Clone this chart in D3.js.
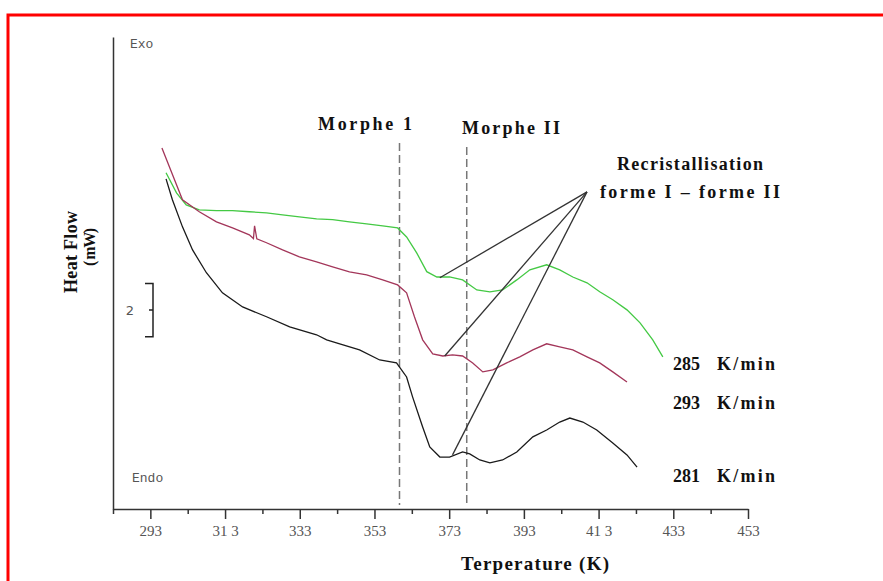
<!DOCTYPE html>
<html>
<head>
<meta charset="utf-8">
<script src="https://cdn.jsdelivr.net/npm/d3@7/dist/d3.min.js"></script>
<style>
  body { margin: 0; background: #fff; }
  svg { display: block; }
  .bold { font-family: 'Liberation Serif', serif; font-weight: bold; fill: #111; }
</style>
</head>
<body>
<svg id="chart" width="883" height="581"></svg>
<script>
// temperature (K), heat flow (mW, arbitrary offset)
const temp285 = [297.2, 300.0, 302.6, 306.1, 310.7, 315.0, 319.5, 324.1, 328.4, 332.9, 337.5, 341.8, 346.3, 350.9, 355.2, 359.2, 361.6, 364.3, 367.0, 369.7, 373.1, 376.6, 380.4, 383.9, 387.3, 391.1, 394.6, 399.1, 402.6, 406.1, 409.9, 413.3, 416.8, 420.6, 424.1, 427.5, 430.2]
const flow285 = [12.68, 11.92, 11.47, 11.28, 11.25, 11.25, 11.21, 11.17, 11.09, 11.02, 10.94, 10.91, 10.83, 10.75, 10.68, 10.6, 10.26, 9.66, 8.95, 8.75, 8.75, 8.64, 8.26, 8.19, 8.26, 8.64, 9.02, 9.21, 9.02, 8.75, 8.53, 8.19, 7.89, 7.51, 7.02, 6.38, 5.74]

const temp293 = [296.1, 301.6, 306.1, 310.7, 315.0, 319.5, 320.6, 320.9, 321.5, 324.1, 328.4, 332.9, 337.5, 341.8, 346.3, 350.9, 355.2, 359.2, 361.6, 363.7, 365.9, 368.6, 371.3, 373.9, 376.6, 379.3, 382.0, 384.7, 388.4, 391.9, 395.4, 399.1, 402.6, 406.1, 409.9, 413.3, 416.8, 420.6]
const flow293 = [13.61, 11.66, 11.21, 10.83, 10.6, 10.34, 10.2, 10.68, 10.19, 10.04, 9.77, 9.51, 9.32, 9.13, 8.94, 8.83, 8.64, 8.45, 8.15, 7.25, 6.38, 5.85, 5.77, 5.81, 5.77, 5.51, 5.17, 5.25, 5.51, 5.74, 6.0, 6.23, 6.11, 6.0, 5.74, 5.51, 5.17, 4.79]

const temp281 = [297.2, 298.9, 301.6, 304.3, 308.0, 312.3, 317.7, 324.1, 330.3, 337.5, 340.2, 343.7, 349.0, 354.4, 358.9, 361.6, 363.2, 365.9, 367.8, 370.5, 373.1, 376.6, 378.5, 381.2, 383.9, 387.3, 391.1, 395.4, 399.1, 402.6, 405.3, 408.8, 412.5, 416.8, 420.6, 423.3]
const flow281 = [12.45, 11.66, 10.64, 9.77, 8.91, 8.15, 7.62, 7.25, 6.87, 6.57, 6.38, 6.23, 6.0, 5.62, 5.51, 4.98, 4.23, 3.09, 2.34, 1.96, 1.96, 2.15, 2.08, 1.85, 1.74, 1.85, 2.15, 2.72, 2.98, 3.28, 3.43, 3.28, 2.98, 2.49, 2.04, 1.58]

const majorTicks = [293, 313, 333, 353, 373, 393, 413, 433, 453]
const tickLabels = ['293', '31 3', '333', '353', '373', '393', '41 3', '433', '453']
const minorTicks = [283, 303, 323, 343, 363, 383, 403, 423, 443]

const morpheTemps = [359.7, 377.7]
const morpheNames = ['Morphe  1', 'Morphe II']

// recristallisation pointer: apex then one end per curve
const pointerApex = [409.9, 11.96]
const pointerEnds = [[370.5, 8.72], [371.8, 5.77], [373.9, 2.04]]

const svg = d3.select('#chart')

const x = d3.scaleLinear().domain([283, 453]).range([113, 748])
const y = d3.scaleLinear().domain([0, 17.8]).range([509, 37])

// red frame
svg.append('rect')
  .attr('x', 8).attr('y', 15)
  .attr('width', 1000).attr('height', 1000)
  .attr('fill', 'none').attr('stroke', '#ff0000').attr('stroke-width', 3)

// x axis, labelled ticks
const xAxis = svg.append('g')
  .attr('transform', 'translate(0,' + y(0) + ')')
  .call(d3.axisBottom(x).tickValues(majorTicks).tickSize(10).tickSizeOuter(0)
    .tickFormat((d, i) => tickLabels[i]))
xAxis.select('.domain').attr('stroke', '#333').attr('stroke-width', 1.5)
xAxis.selectAll('.tick line').attr('stroke', '#333').attr('stroke-width', 1.5)
xAxis.selectAll('.tick text')
  .attr('y', 16)
  .attr('font-family', 'Liberation Serif, serif')
  .attr('font-size', 15)
  .attr('fill', '#555')

const xMinor = svg.append('g')
  .attr('transform', 'translate(0,' + y(0) + ')')
  .call(d3.axisBottom(x).tickValues(minorTicks).tickSize(5).tickSizeOuter(0).tickFormat(''))
xMinor.select('.domain').remove()
xMinor.selectAll('.tick line').attr('stroke', '#333').attr('stroke-width', 1.5)

// y axis, a bare line
const yAxis = svg.append('g')
  .attr('transform', 'translate(' + x(283) + ',0)')
  .call(d3.axisLeft(y).tickValues([]).tickSizeOuter(0))
yAxis.select('.domain').attr('stroke', '#333').attr('stroke-width', 1.5)

svg.append('text')
  .attr('class', 'bold')
  .attr('x', 535).attr('y', 570)
  .attr('text-anchor', 'middle')
  .attr('font-size', 19)
  .attr('textLength', 148)
  .text('Terperature  (K)')

svg.append('text')
  .attr('class', 'bold')
  .attr('transform', 'translate(77,252) rotate(-90)')
  .attr('text-anchor', 'middle')
  .attr('font-size', 18)
  .attr('textLength', 82)
  .text('Heat  Flow')

svg.append('text')
  .attr('class', 'bold')
  .attr('transform', 'translate(95,247) rotate(-90)')
  .attr('text-anchor', 'middle')
  .attr('font-size', 16)
  .attr('textLength', 38)
  .text('( mW)')

svg.append('text')
  .attr('x', 130).attr('y', 48)
  .attr('font-family', 'Liberation Mono, monospace')
  .attr('font-size', 13).attr('fill', '#555')
  .text('Exo')

svg.append('text')
  .attr('x', 132).attr('y', 482)
  .attr('font-family', 'Liberation Mono, monospace')
  .attr('font-size', 13).attr('fill', '#555')
  .text('Endo')

// 2 mW scale bracket
const barTop = y(8.5), barBot = y(6.5), barX = 153
svg.append('path')
  .attr('d', `M${barX - 8},${barTop}H${barX}V${barBot}H${barX - 8}M${barX},${(barTop + barBot) / 2}h-4`)
  .attr('fill', 'none').attr('stroke', '#222').attr('stroke-width', 1.5)
svg.append('text')
  .attr('x', 130).attr('y', (barTop + barBot) / 2 + 5)
  .attr('text-anchor', 'middle')
  .attr('font-family', 'DejaVu Sans, sans-serif')
  .attr('font-size', 13).attr('fill', '#555')
  .text('2')

// morphe dashed markers
svg.selectAll('.morphe')
  .data(morpheTemps)
  .join('line')
  .attr('x1', d => x(d)).attr('x2', d => x(d))
  .attr('y1', (d, i) => i === 0 ? 143 : 147)
  .attr('y2', y(0.15))
  .attr('stroke', '#777').attr('stroke-width', 1.5)
  .attr('stroke-dasharray', '8,4')

svg.append('text').attr('class', 'bold')
  .attr('x', 365).attr('y', 130).attr('text-anchor', 'middle')
  .attr('font-size', 18).attr('textLength', 94)
  .text(morpheNames[0])
svg.append('text').attr('class', 'bold')
  .attr('x', 511).attr('y', 134).attr('text-anchor', 'middle')
  .attr('font-size', 18).attr('textLength', 98)
  .text(morpheNames[1])

svg.append('text').attr('class', 'bold')
  .attr('x', 690).attr('y', 170).attr('text-anchor', 'middle')
  .attr('font-size', 18).attr('textLength', 146)
  .text('Recristallisation')
svg.append('text').attr('class', 'bold')
  .attr('x', 690).attr('y', 198).attr('text-anchor', 'middle')
  .attr('font-size', 18).attr('textLength', 180)
  .text('forme I – forme II')

// curves
const line = d3.line().x(d => x(d[0])).y(d => y(d[1]))
const series = [
  { t: temp285, f: flow285, color: '#44c944' },
  { t: temp293, f: flow293, color: '#a3365a' },
  { t: temp281, f: flow281, color: '#1a1a1a' }
]
series.forEach(s => {
  svg.append('path')
    .datum(s.t.map((t, i) => [t, s.f[i]]))
    .attr('d', line)
    .attr('fill', 'none')
    .attr('stroke', s.color)
    .attr('stroke-width', 1.3)
})

// pointer lines
svg.selectAll('.pointer')
  .data(pointerEnds)
  .join('line')
  .attr('x1', x(pointerApex[0])).attr('y1', y(pointerApex[1]))
  .attr('x2', d => x(d[0])).attr('y2', d => y(d[1]))
  .attr('stroke', '#333').attr('stroke-width', 1.3)

// rate labels
const rateLabels = [['285', 370], ['293', 409], ['281', 482]]
rateLabels.forEach(r => {
  svg.append('text').attr('class', 'bold')
    .attr('x', 673).attr('y', r[1])
    .attr('font-size', 18).attr('textLength', 27)
    .text(r[0])
  svg.append('text').attr('class', 'bold')
    .attr('x', 717).attr('y', r[1])
    .attr('font-size', 18).attr('textLength', 58)
    .text('K/min')
})
</script>
</body>
</html>
